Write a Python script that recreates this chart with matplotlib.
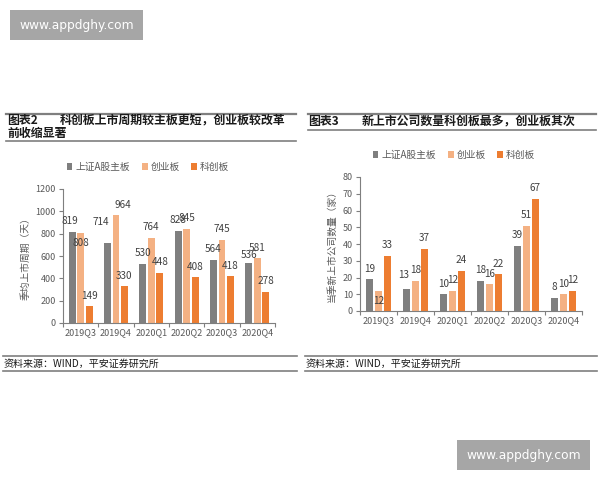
import numpy as np
import matplotlib
matplotlib.use("Agg")
import matplotlib.pyplot as plt
from matplotlib.lines import Line2D
from matplotlib.patches import Rectangle

plt.rcParams['font.family'] = ['Noto Sans CJK SC', 'DejaVu Sans']

# data
quarters = ['2019Q3', '2019Q4', '2020Q1', '2020Q2', '2020Q3', '2020Q4']
series_names = ['上证A股主板', '创业板', '科创板']
cycle_main = [819, 714, 530, 828, 564, 536]
cycle_gem = [808, 964, 764, 845, 745, 581]
cycle_star = [149, 330, 448, 408, 418, 278]
count_main = [19, 13, 10, 18, 39, 8]
count_gem = [12, 18, 12, 16, 51, 10]
count_star = [33, 37, 24, 22, 67, 12]

colors = ['#7f7f7f', '#f4b183', '#ed7d31']
tick_color = '#595959'
line_color = '#7f7f7f'

fig = plt.figure(figsize=(6, 4.8), dpi=100)


def fx(px):
    return px / 600.0


def fy(py):
    return 1 - py / 480.0


def hline(y, x0, x1, lw=1.4):
    fig.add_artist(Line2D([fx(x0), fx(x1)], [fy(y), fy(y)], color=line_color, lw=lw))


def draw_bars(ax, data, ymax, ystep, ylabel, nudges):
    x = np.arange(len(quarters))
    offs = [-0.24, 0, 0.24]
    for k, vals in enumerate(data):
        ax.bar(x + offs[k], vals, width=0.19, color=colors[k], label=series_names[k])
        for i, v in enumerate(vals):
            dx, dy = nudges.get((k, i), (0, 0))
            ax.annotate(str(v), (x[i] + offs[k], v), xytext=(dx, 4 + dy),
                        textcoords='offset points', ha='center', va='bottom',
                        fontsize=7.2, color='#404040')
    ax.set_xlim(-0.5, len(quarters) - 0.5)
    ax.set_ylim(0, ymax)
    ax.set_yticks(np.arange(0, ymax + 1, ystep))
    ax.set_xticks(np.arange(-0.5, len(quarters), 1))
    ax.set_xticklabels([])
    ax.set_xticks(x, minor=True)
    ax.set_xticklabels(quarters, minor=True)
    ax.tick_params(axis='x', which='major', length=3, color=line_color, direction='out')
    ax.tick_params(axis='x', which='minor', length=0, pad=4, labelsize=6.5, labelcolor=tick_color)
    ax.tick_params(axis='y', length=3, color=line_color, labelsize=6.5, labelcolor=tick_color, pad=2)
    for s in ['top', 'right']:
        ax.spines[s].set_visible(False)
    for s in ['left', 'bottom']:
        ax.spines[s].set_color(line_color)
        ax.spines[s].set_linewidth(0.8)
    ax.set_ylabel(ylabel, fontsize=7, color=tick_color, labelpad=4)


# left chart
ax1 = fig.add_axes([fx(63), fy(323), fx(212), 134 / 480])
left_nudges = {(1, 0): (0, -15), (0, 1): (-5, 8), (1, 1): (5, 0), (0, 5): (0, -2), (0, 0): (-2, 0)}
draw_bars(ax1, [cycle_main, cycle_gem, cycle_star], 1200, 200, '季均上市周期（天）', left_nudges)
ax1.legend(loc='center', bbox_to_anchor=(fx(148), fy(167)), bbox_transform=fig.transFigure,
           ncol=3, frameon=False, fontsize=7, handlelength=0.6, handleheight=0.6,
           handletextpad=0.3, columnspacing=1.2, labelcolor=tick_color)

# right chart
ax2 = fig.add_axes([fx(360), fy(311), fx(222), 134 / 480])
right_nudges = {(1, 0): (0, -15), (0, 1): (-2, 3)}
draw_bars(ax2, [count_main, count_gem, count_star], 80, 10, '当季新上市公司数量（家）', right_nudges)
ax2.legend(loc='center', bbox_to_anchor=(fx(454), fy(155)), bbox_transform=fig.transFigure,
           ncol=3, frameon=False, fontsize=7, handlelength=0.6, handleheight=0.6,
           handletextpad=0.3, columnspacing=1.2, labelcolor=tick_color)

# titles and rules
title_kw = dict(fontsize=8.6, fontweight='bold', va='center', ha='left', color='#1a1a1a')
hline(114, 6, 296, 1.6)
hline(141, 6, 296, 1.2)
fig.text(fx(7), fy(120.5), '图表2', **title_kw)
fig.text(fx(60), fy(120.5), '科创板上市周期较主板更短，创业板较改革', **title_kw)
fig.text(fx(7), fy(133.5), '前收缩显著', **title_kw)

hline(114, 308, 596, 1.6)
hline(129.5, 308, 596, 1.2)
fig.text(fx(308), fy(121), '图表3', **title_kw)
fig.text(fx(362), fy(121), '新上市公司数量科创板最多，创业板其次', **title_kw)

# source notes
for x0, x1 in [(3, 297), (305, 597)]:
    hline(356, x0, x1, 1.2)
    hline(370.5, x0, x1, 1.2)
    fig.text(fx(x0 + 1), fy(363.5), '资料来源：WIND，平安证券研究所', fontsize=7.2,
             style='italic', va='center', ha='left', color='#1a1a1a')

# watermarks
for x0, y0 in [(10, 10), (457, 440)]:
    fig.add_artist(Rectangle((fx(x0), fy(y0 + 30)), fx(133), 30 / 480,
                             transform=fig.transFigure, color='#a6a6a6', lw=0))
    fig.text(fx(x0 + 66.5), fy(y0 + 15), 'www.appdghy.com', fontsize=8.8,
             color='white', ha='center', va='center', family='DejaVu Sans')

fig.savefig('out.png', dpi=100)
